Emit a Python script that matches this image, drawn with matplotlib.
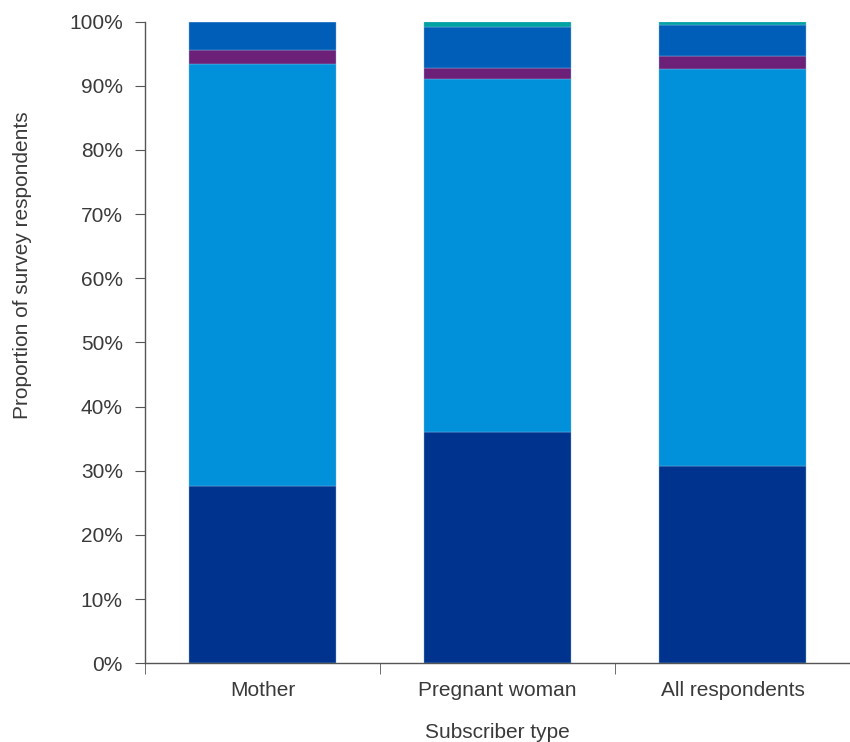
import matplotlib.pyplot as plt
import numpy as np
from matplotlib.ticker import PercentFormatter

plt.rcParams['font.family'] = ['Liberation Sans Narrow', 'Liberation Sans', 'DejaVu Sans']

categories = ['Mother', 'Pregnant woman', 'All respondents']
dark_blue = [27.7, 36.1, 30.7]
light_blue = [65.7, 55.0, 61.9]
purple = [2.1, 1.7, 2.0]
mid_blue = [4.5, 6.3, 4.9]
teal = [0.0, 0.9, 0.5]

series = [dark_blue, light_blue, purple, mid_blue, teal]
colors = ['#00338D', '#0091DA', '#6D2077', '#005EB8', '#00A3A1']

fig = plt.figure(figsize=(8.5, 7.42), dpi=100)
ax = fig.add_axes([0.1706, 0.106, 0.8294, 0.865])

x = np.arange(len(categories))
bottom = np.zeros(len(categories))
for vals, c in zip(series, colors):
    ax.bar(x, vals, 0.625, bottom=bottom, color=c, edgecolor='#7fb3e0', linewidth=0.3)
    bottom += np.array(vals)

ax.set_xlim(-0.5, 2.5)
ax.set_ylim(0, 100)
ax.set_yticks(np.arange(0, 101, 10))
ax.yaxis.set_major_formatter(PercentFormatter(decimals=0))
ax.set_xticks(x)
ax.set_xticklabels(categories)
ax.set_xticks([-0.5, 0.5, 1.5, 2.5], minor=True)
ax.tick_params(axis='x', which='major', length=0, pad=13, labelsize=15, colors='#3a3a3a')
ax.tick_params(axis='x', which='minor', length=8, color='#555555')
ax.tick_params(axis='y', length=7, pad=9, labelsize=15, colors='#3a3a3a', color='#555555')

for s in ['top', 'right']:
    ax.spines[s].set_visible(False)
for s in ['left', 'bottom']:
    ax.spines[s].set_color('#555555')
    ax.spines[s].set_linewidth(1.0)

ax.set_ylabel('Proportion of survey respondents', fontsize=15, color='#3a3a3a')
ax.yaxis.set_label_coords(-0.16, 0.62)
ax.set_xlabel('Subscriber type', fontsize=15, color='#3a3a3a', labelpad=16)

fig.savefig('out.png', dpi=100)
